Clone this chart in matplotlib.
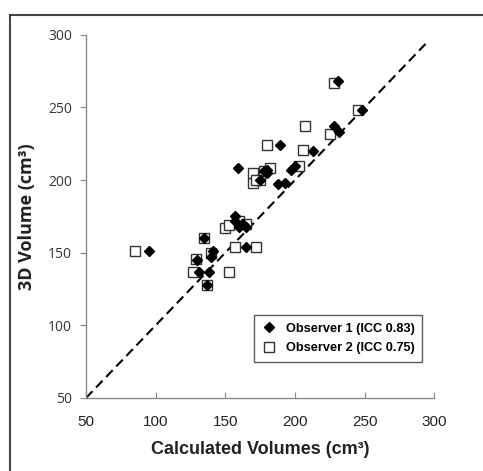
import matplotlib
matplotlib.use("Agg")
import matplotlib.pyplot as plt
from matplotlib.lines import Line2D

# ============================================================
# DADOS
# ============================================================

obs1_x = [95, 131, 130, 135, 138, 137, 140, 141, 159, 157, 160, 163, 165, 165,
          175, 178, 180, 189, 188, 193, 197, 200, 213, 228, 231, 232, 248, 157, 180]
obs1_y = [151, 137, 145, 160, 137, 128, 147, 151, 208, 175, 168, 170, 168, 154,
          200, 206, 205, 224, 197, 198, 207, 210, 220, 237, 268, 233, 248, 172, 207]

obs2_x = [85, 127, 129, 135, 137, 140, 150, 153, 153, 157, 160, 170, 170, 172,
          175, 178, 180, 182, 203, 206, 207, 225, 228, 245, 172, 165]
obs2_y = [151, 137, 146, 160, 128, 150, 167, 137, 169, 154, 172, 198, 205, 154,
          200, 206, 224, 208, 210, 221, 237, 232, 267, 248, 200, 170]

legend_labels = ["Observer 1 (ICC 0.83)", "Observer 2 (ICC 0.75)"]
ticks = [50, 100, 150, 200, 250, 300]

# ============================================================
# FIGURA
# ============================================================

fig = plt.figure(figsize=(4.83, 4.71), dpi=100)
ax = fig.add_axes([0.178, 0.155, 0.721, 0.771])

ax.plot([50, 295], [50, 295], color="black", linestyle=(0, (4.5, 2.5)), lw=1.5, zorder=1)

ax.plot(obs2_x, obs2_y, linestyle="none", marker="s", markersize=7,
        markerfacecolor="white", markeredgecolor="#333333", markeredgewidth=1.0, zorder=2)
ax.plot(obs1_x, obs1_y, linestyle="none", marker="D", markersize=5.5,
        color="black", zorder=3)

ax.set_xlim(50, 300)
ax.set_ylim(50, 300)
ax.set_xticks(ticks)
ax.set_yticks(ticks)

for s in ["top", "right"]:
    ax.spines[s].set_visible(False)
for s in ["left", "bottom"]:
    ax.spines[s].set_color("#8a8a8a")
    ax.spines[s].set_linewidth(1.0)

ax.tick_params(axis="y", direction="out", length=4, color="#8a8a8a",
               labelsize=10, labelcolor="#333333", pad=6)
ax.tick_params(axis="x", direction="in", length=4, color="#8a8a8a",
               labelsize=11, labelcolor="#222222", pad=12)
for lab in ax.get_xticklabels():
    lab.set_family("Liberation Sans")
for lab in ax.get_yticklabels():
    lab.set_family("Open Sans")

ax.set_xlabel("Calculated Volumes (cm³)", fontsize=13, fontweight="bold",
              family="Liberation Sans", color="#222222", labelpad=9)
ax.set_ylabel("3D Volume (cm³)", fontsize=13, fontweight="bold",
              family="Open Sans", color="#222222", labelpad=9)

handles = [
    Line2D([], [], linestyle="none", marker="D", markersize=5.5, color="black"),
    Line2D([], [], linestyle="none", marker="s", markersize=7,
           markerfacecolor="white", markeredgecolor="#333333"),
]
leg = ax.legend(handles, legend_labels, loc="lower right",
                bbox_to_anchor=(0.966, 0.099), borderaxespad=0, frameon=True,
                fancybox=False,
                prop={"family": "Liberation Sans", "weight": "bold", "size": 9.2},
                handletextpad=0.7, borderpad=0.6, labelspacing=0.6, handlelength=1.2)
leg.get_frame().set_edgecolor("#333333")
leg.get_frame().set_linewidth(1.0)

# cadre de la figure (haut et gauche)
fig.add_artist(Line2D([10 / 483, 1.0], [1 - 15 / 471, 1 - 15 / 471],
                      color="#444444", lw=1.5, transform=fig.transFigure))
fig.add_artist(Line2D([10 / 483, 10 / 483], [0.0, 1 - 15 / 471],
                      color="#444444", lw=1.5, transform=fig.transFigure))

# ============================================================
# EXPORTAÇÃO
# ============================================================

plt.savefig("out.png", dpi=100)
